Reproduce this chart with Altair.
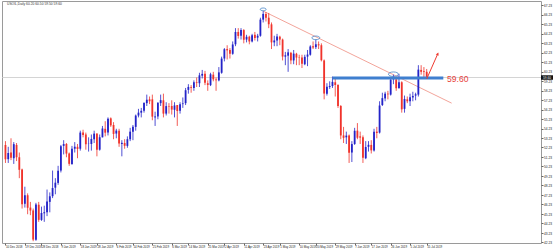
import json
import altair as alt
import pandas as pd

# ---------------- data ----------------
dates = [
    "10 Dec 2018", "11 Dec 2018", "12 Dec 2018", "13 Dec 2018", "14 Dec 2018",
    "17 Dec 2018", "18 Dec 2018", "19 Dec 2018", "20 Dec 2018", "21 Dec 2018",
    "24 Dec 2018", "26 Dec 2018", "27 Dec 2018", "28 Dec 2018", "31 Dec 2018",
    "2 Jan 2019", "3 Jan 2019", "4 Jan 2019", "7 Jan 2019", "8 Jan 2019",
    "9 Jan 2019", "10 Jan 2019", "11 Jan 2019", "14 Jan 2019", "15 Jan 2019",
    "16 Jan 2019", "17 Jan 2019", "18 Jan 2019", "21 Jan 2019", "22 Jan 2019",
    "23 Jan 2019", "24 Jan 2019", "25 Jan 2019", "28 Jan 2019", "29 Jan 2019",
    "30 Jan 2019", "31 Jan 2019", "1 Feb 2019", "4 Feb 2019", "5 Feb 2019",
    "6 Feb 2019", "7 Feb 2019", "8 Feb 2019", "11 Feb 2019", "12 Feb 2019",
    "13 Feb 2019", "14 Feb 2019", "15 Feb 2019", "18 Feb 2019", "19 Feb 2019",
    "20 Feb 2019", "21 Feb 2019", "22 Feb 2019", "25 Feb 2019", "26 Feb 2019",
    "27 Feb 2019", "28 Feb 2019", "1 Mar 2019", "4 Mar 2019", "5 Mar 2019",
    "6 Mar 2019", "7 Mar 2019", "8 Mar 2019", "11 Mar 2019", "12 Mar 2019",
    "13 Mar 2019", "14 Mar 2019", "15 Mar 2019", "18 Mar 2019", "19 Mar 2019",
    "20 Mar 2019", "21 Mar 2019", "22 Mar 2019", "25 Mar 2019", "26 Mar 2019",
    "27 Mar 2019", "28 Mar 2019", "29 Mar 2019", "1 Apr 2019", "2 Apr 2019",
    "3 Apr 2019", "4 Apr 2019", "5 Apr 2019", "8 Apr 2019", "9 Apr 2019",
    "10 Apr 2019", "11 Apr 2019", "12 Apr 2019", "15 Apr 2019", "16 Apr 2019",
    "17 Apr 2019", "18 Apr 2019", "22 Apr 2019", "23 Apr 2019", "24 Apr 2019",
    "25 Apr 2019", "26 Apr 2019", "29 Apr 2019", "30 Apr 2019", "1 May 2019",
    "2 May 2019", "3 May 2019", "6 May 2019", "7 May 2019", "8 May 2019",
    "9 May 2019", "10 May 2019", "13 May 2019", "14 May 2019", "15 May 2019",
    "16 May 2019", "17 May 2019", "20 May 2019", "21 May 2019", "22 May 2019",
    "23 May 2019", "24 May 2019", "27 May 2019", "28 May 2019", "29 May 2019",
    "30 May 2019", "31 May 2019", "3 Jun 2019", "4 Jun 2019", "5 Jun 2019",
    "6 Jun 2019", "7 Jun 2019", "10 Jun 2019", "11 Jun 2019", "12 Jun 2019",
    "13 Jun 2019", "14 Jun 2019", "17 Jun 2019", "18 Jun 2019", "19 Jun 2019",
    "20 Jun 2019", "21 Jun 2019", "24 Jun 2019", "25 Jun 2019", "26 Jun 2019",
    "27 Jun 2019", "28 Jun 2019", "1 Jul 2019", "2 Jul 2019", "3 Jul 2019",
    "4 Jul 2019", "5 Jul 2019", "8 Jul 2019", "9 Jul 2019", "10 Jul 2019",
    "11 Jul 2019", "12 Jul 2019", "15 Jul 2019",
]

opens = [
    52.5, 51.0, 51.7, 51.1, 52.5, 51.2, 49.9, 46.3, 47.2, 45.9,
    45.6, 42.5, 46.2, 44.6, 45.3, 45.4, 46.5, 47.1, 48.0, 48.5,
    49.8, 52.4, 52.6, 51.6, 50.5, 52.1, 52.3, 52.1, 53.8, 53.6,
    52.6, 52.6, 53.1, 53.7, 52.0, 53.3, 54.2, 53.8, 55.3, 54.6,
    53.7, 54.0, 52.6, 52.7, 52.4, 53.1, 53.9, 54.4, 55.6, 55.9,
    56.1, 56.9, 57.3, 57.3, 55.4, 55.5, 56.9, 57.2, 55.8, 56.6,
    56.6, 56.2, 56.7, 56.1, 56.8, 56.9, 58.3, 58.6, 58.5, 59.1,
    59.0, 59.8, 60.0, 59.0, 58.8, 59.9, 59.4, 59.3, 60.1, 61.6,
    62.6, 62.5, 62.1, 63.1, 64.4, 64.0, 64.6, 63.6, 63.9, 63.4,
    64.1, 63.8, 64.0, 65.7, 66.3, 65.9, 65.2, 63.3, 63.5, 63.9,
    63.6, 61.8, 61.9, 62.2, 61.4, 62.1, 61.7, 61.7, 61.0, 61.8,
    62.0, 62.9, 62.8, 63.1, 63.0, 61.4, 57.9, 58.6, 58.7, 59.1,
    58.8, 56.6, 53.5, 53.3, 53.5, 51.7, 52.6, 54.0, 53.4, 53.3,
    51.1, 52.3, 52.5, 51.9, 53.9, 53.8, 56.7, 57.4, 57.9, 57.8,
    59.4, 59.4, 58.5, 59.1, 56.3, 57.3, 57.1, 57.5, 57.7, 57.8,
    60.4, 60.3, 60.2,
]

highs = [
    52.9, 52.3, 53.2, 52.8, 52.7, 51.7, 50.0, 48.1, 47.4, 46.5,
    45.8, 46.4, 46.5, 46.0, 46.1, 47.8, 47.5, 49.8, 49.0, 50.3,
    52.5, 53.0, 52.7, 51.7, 52.4, 52.8, 52.6, 54.0, 54.1, 53.8,
    53.3, 53.6, 54.0, 53.7, 53.6, 54.5, 55.0, 55.4, 55.4, 54.9,
    54.2, 54.2, 53.0, 53.1, 53.4, 54.3, 54.6, 55.7, 56.3, 56.4,
    57.0, 57.8, 57.6, 57.8, 56.0, 57.0, 57.8, 57.9, 57.0, 56.9,
    57.2, 57.0, 56.7, 57.0, 57.5, 58.5, 58.9, 58.8, 59.3, 59.6,
    60.1, 60.4, 60.3, 59.3, 60.1, 60.2, 59.6, 60.7, 61.8, 62.7,
    63.0, 62.7, 63.4, 64.8, 64.8, 64.8, 64.7, 64.1, 64.0, 64.2,
    64.4, 64.2, 65.9, 66.6, 66.5, 66.4, 65.4, 64.0, 64.2, 64.0,
    63.7, 62.3, 62.6, 62.3, 62.5, 62.2, 62.0, 62.0, 62.0, 62.5,
    63.0, 63.4, 63.6, 63.4, 63.2, 61.5, 59.0, 59.2, 59.7, 59.5,
    58.9, 56.7, 54.4, 53.9, 53.6, 52.9, 54.3, 54.8, 53.9, 53.5,
    52.9, 52.9, 53.0, 54.2, 54.4, 57.1, 58.0, 58.1, 58.2, 59.6,
    59.9, 59.6, 60.0, 59.2, 57.7, 57.6, 57.9, 58.1, 58.0, 60.9,
    60.9, 60.7, 60.5,
]

lows = [
    50.6, 50.6, 50.9, 50.5, 50.8, 49.0, 45.8, 45.9, 45.2, 45.1,
    42.36, 42.4, 44.4, 44.5, 44.4, 45.0, 45.4, 46.9, 47.3, 48.3,
    49.6, 51.5, 51.2, 50.3, 50.4, 51.7, 51.1, 51.9, 53.3, 52.0,
    51.8, 51.9, 52.7, 51.3, 51.9, 53.3, 53.4, 53.5, 54.4, 53.1,
    53.2, 52.3, 51.3, 52.1, 52.2, 52.9, 53.0, 54.0, 55.4, 55.4,
    55.9, 56.6, 56.8, 55.1, 54.5, 55.2, 56.6, 55.4, 55.6, 55.8,
    55.7, 55.4, 54.5, 55.8, 56.4, 56.7, 57.9, 58.0, 58.2, 58.6,
    58.6, 59.5, 58.8, 58.2, 58.7, 59.2, 58.2, 59.2, 60.0, 61.3,
    61.5, 61.6, 62.0, 62.9, 63.7, 63.6, 63.2, 63.3, 63.1, 63.3,
    63.5, 63.4, 63.9, 65.4, 65.5, 64.8, 62.6, 62.9, 62.9, 63.0,
    61.4, 60.9, 60.2, 61.0, 61.0, 60.9, 60.9, 60.6, 60.9, 60.8,
    61.9, 62.6, 62.6, 62.6, 61.3, 57.3, 57.7, 58.4, 58.5, 57.6,
    56.4, 53.1, 52.7, 52.6, 50.6, 50.7, 52.5, 53.1, 52.6, 50.6,
    51.0, 51.8, 51.6, 51.8, 53.2, 53.7, 56.6, 57.1, 57.3, 57.7,
    58.9, 58.2, 58.4, 55.9, 55.9, 56.9, 56.6, 57.1, 57.2, 57.6,
    59.9, 59.6, 59.5,
]

closes = [
    51.0, 51.65, 51.15, 52.58, 51.2, 49.88, 46.24, 47.2, 45.88, 45.59,
    42.53, 46.22, 44.61, 45.33, 45.41, 46.54, 47.09, 47.96, 48.52, 49.78,
    52.36, 52.59, 51.59, 50.51, 52.11, 52.31, 52.07, 53.8, 53.55, 52.57,
    52.62, 53.13, 53.69, 51.99, 53.31, 54.23, 53.79, 55.26, 54.56, 53.66,
    54.01, 52.64, 52.72, 52.41, 53.1, 53.9, 54.41, 55.59, 55.9, 56.09,
    56.92, 57.26, 57.1, 55.48, 55.5, 56.94, 57.22, 55.8, 56.59, 56.56,
    56.22, 56.66, 56.07, 56.79, 56.87, 58.26, 58.61, 58.52, 59.09, 59.03,
    59.83, 59.98, 59.04, 58.82, 59.94, 59.41, 59.3, 60.14, 61.59, 62.58,
    62.46, 62.1, 63.08, 64.4, 63.98, 64.61, 63.58, 63.89, 63.4, 64.05,
    63.76, 64.0, 65.7, 66.3, 65.89, 65.21, 63.3, 63.5, 63.91, 63.6,
    61.81, 61.94, 62.25, 61.4, 62.12, 61.7, 61.66, 61.04, 61.78, 62.02,
    62.87, 62.76, 63.1, 62.99, 61.42, 57.91, 58.63, 58.7, 59.14, 58.81,
    56.59, 53.5, 53.25, 53.48, 51.68, 52.59, 53.99, 53.26, 53.27, 51.14,
    52.28, 52.51, 51.93, 53.9, 53.76, 56.65, 57.43, 57.9, 57.83, 59.38,
    59.43, 58.47, 59.09, 56.25, 57.34, 57.1, 57.51, 57.66, 57.83, 60.43,
    60.2, 60.21, 59.6,
]

# axis tick labels
x_labels = [
    "10 Dec 2018", "19 Dec 2018", "28 Dec 2018", "9 Jan 2019", "18 Jan 2019",
    "28 Jan 2019", "6 Feb 2019", "14 Feb 2019", "25 Feb 2019", "6 Mar 2019",
    "14 Mar 2019", "25 Mar 2019", "2 Apr 2019", "11 Apr 2019", "23 Apr 2019",
    "1 May 2019", "10 May 2019", "20 May 2019", "29 May 2019", "7 Jun 2019",
    "17 Jun 2019", "26 Jun 2019", "5 Jul 2019", "15 Jul 2019",
]
y_ticks = [
    42.23, 43.23, 44.23, 45.23, 46.23, 47.23, 48.23, 49.23, 50.23, 51.23,
    52.23, 53.23, 54.23, 55.23, 56.23, 57.23, 58.23, 59.23, 60.23, 61.23,
    62.23, 63.23, 64.23, 65.23, 66.23, 67.23,
]

# annotations (x positions are bar numbers; numbers past the last bar are empty future slots)
level_price = 59.60
level_label = "59.60"
level_from, level_to = 118, 158
trend_x = [93, 161]
trend_y = [66.6, 56.9]
ellipse_x = [93, 112, 140]
ellipse_y = [66.78, 63.78, 59.95]
ellipse_size = [36, 64, 100]
arrow_x = [152, 156]
arrow_y = [59.45, 62.1]
label_x = 159
header_text = "USOIL,Daily  60.20 60.50 59.50 59.60"

# ---------------- layout helpers ----------------
W, H = 539, 242

df = pd.DataFrame({"i": list(range(len(dates))), "o": opens, "h": highs, "l": lows, "c": closes})
df["dir"] = ["up" if c >= o else "down" for o, c in zip(opens, closes)]

BLUE = "#2323c8"
RED = "#f0332b"

xscale = alt.Scale(domain=[-1.25, 193.25], nice=False, zero=False, padding=0)
yscale = alt.Scale(domain=[42.17, 67.66], nice=False, zero=False, padding=0)
color = alt.Color("dir:N", scale=alt.Scale(domain=["up", "down"], range=[BLUE, RED]), legend=None)

x_values = [dates.index(s) for s in x_labels]
x_axis = alt.Axis(values=x_values, labelExpr=json.dumps(dates).replace('"', "'") + "[datum.value]",
                  labelAngle=0, labelAlign="left", labelOverlap=False, labelBound=False,
                  labelFlush=False, title=None)
y_axis = alt.Axis(orient="right", values=y_ticks, format=".2f", labelOverlap=False,
                  labelBound=False, labelFlush=False, title=None)


def X(field):
    return alt.X(field, scale=xscale, axis=x_axis)


def Y(field):
    return alt.Y(field, scale=yscale, axis=y_axis)


base = alt.Chart(df)

wicks = base.mark_rule(strokeWidth=0.8).encode(x=X("i:Q"), y=Y("l:Q"), y2="h:Q", color=color)
bodies = base.mark_bar(size=1.8, orient="vertical").encode(x=X("i:Q"), y=Y("o:Q"), y2="c:Q", color=color)

bid_line = alt.Chart(pd.DataFrame({"p": [level_price]})).mark_rule(
    color="#c8c8c8", strokeWidth=0.8
).encode(y=Y("p:Q"))

trend = alt.Chart(pd.DataFrame({"i": trend_x, "p": trend_y})).mark_line(
    color="#f19a8e", strokeWidth=0.9
).encode(x=X("i:Q"), y=Y("p:Q"))

level = alt.Chart(pd.DataFrame({"i": [level_from], "i2": [level_to], "p": [level_price - 0.05]})).mark_rule(
    color="#3f7fcf", strokeWidth=3
).encode(x=X("i:Q"), x2="i2:Q", y=Y("p:Q"))

level_text = alt.Chart(pd.DataFrame({"i": [label_x], "p": [level_price - 0.13], "t": [level_label]})).mark_text(
    color="#e8413a", fontSize=8.5, align="left", baseline="middle", font="Liberation Sans", dx=1
).encode(x=X("i:Q"), y=Y("p:Q"), text="t:N")

ellipse_path = "M -1 0 A 1 0.45 0 1 1 1 0 A 1 0.45 0 1 1 -1 0 Z"
ellipses = alt.Chart(pd.DataFrame({"i": ellipse_x, "p": ellipse_y, "s": ellipse_size})).mark_point(
    shape=ellipse_path, filled=False, stroke="#4a86c8", strokeWidth=0.8, opacity=1
).encode(
    x=X("i:Q"),
    y=Y("p:Q"),
    size=alt.Size("s:Q", scale=None, legend=None),
)

arrow = alt.Chart(pd.DataFrame({"i": arrow_x, "p": arrow_y})).mark_line(
    color="#ee3a30", strokeWidth=1
).encode(x=X("i:Q"), y=Y("p:Q"))

arrow_head = alt.Chart(pd.DataFrame({"i": [arrow_x[1]], "p": [arrow_y[1]]})).mark_point(
    shape="triangle-up", filled=True, color="#ee3a30", size=10, angle=24, opacity=1
).encode(x=X("i:Q"), y=Y("p:Q"))

price_box = alt.Chart(pd.DataFrame({"p": [level_price]})).mark_rule(
    color="#111", strokeWidth=4.5
).encode(x=alt.value(W), x2=alt.value(W + 12), y=Y("p:Q"))

price_box_text = alt.Chart(pd.DataFrame({"p": [level_price], "t": [level_label]})).mark_text(
    color="white", fontSize=3.2, align="left", baseline="middle", font="Liberation Sans"
).encode(x=alt.value(W + 2), y=Y("p:Q"), text="t:N")

header = alt.Chart(pd.DataFrame({"t": [header_text]})).mark_text(
    color="#333", fontSize=3.3, align="left", baseline="middle", font="Liberation Sans"
).encode(x=alt.value(5), y=alt.value(2.5), text="t:N")

chart = alt.layer(
    bid_line, trend, wicks, bodies, level, ellipses, arrow, arrow_head,
    level_text, price_box, price_box_text, header,
).properties(
    width=W, height=H,
    autosize=alt.AutoSizeParams(type="none"),
    padding={"left": 2, "top": 1, "right": 12, "bottom": 7},
    background="white",
).configure_view(
    stroke="#9a9a9a", strokeWidth=1
).configure_axis(
    labelOverlap=False, labelBound=False, grid=False, domain=False,
    labelFont="Liberation Sans", labelColor="#222", tickSize=2, tickColor="#666",
    labelPadding=0.5,
).configure_axisX(
    labelFontSize=2.9,
).configure_axisY(
    labelFontSize=3.2,
)

chart.save("out.html", embed_options={"renderer": "svg", "actions": False})
